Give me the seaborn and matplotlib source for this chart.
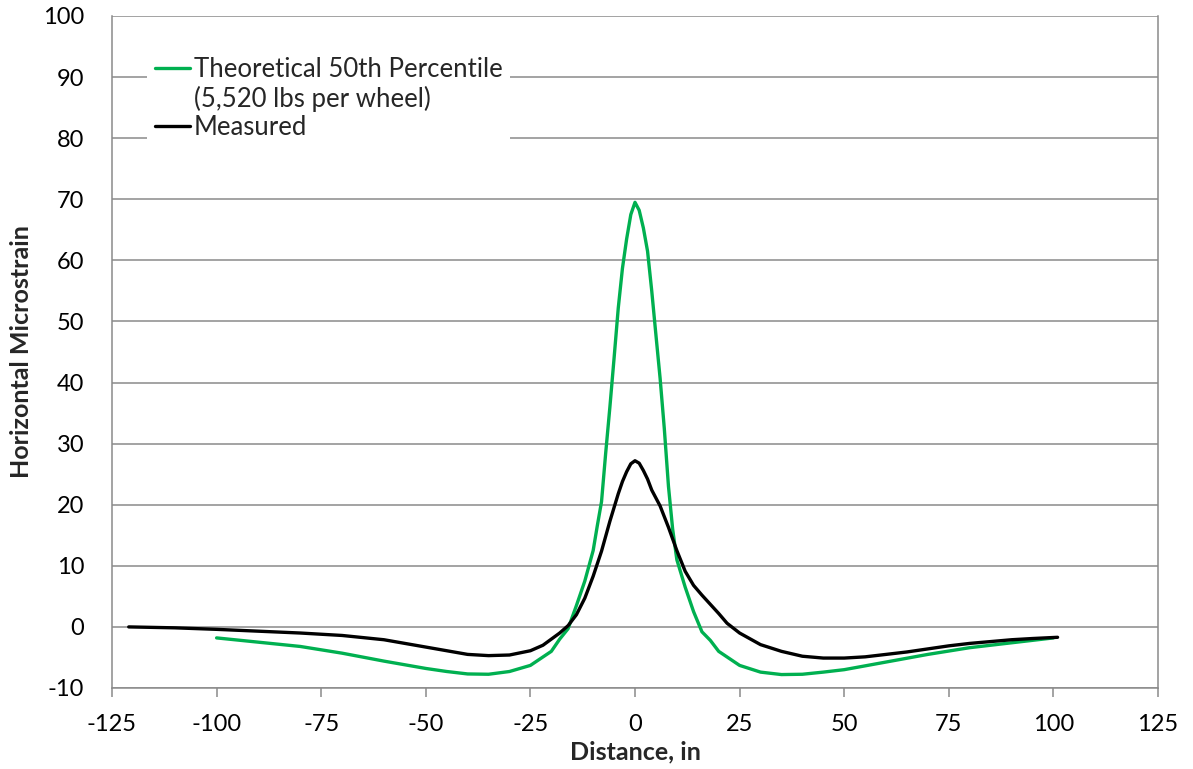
import matplotlib
matplotlib.use("Agg")
import matplotlib.pyplot as plt
from matplotlib.lines import Line2D
import seaborn as sns
import pandas as pd

# Theoretical 50th percentile strain response (5,520 lbs per wheel)
theory_x = [-100, -90, -80, -70, -60, -50, -45, -40, -35, -30, -25, -20, -18, -16,
            -14, -12, -10, -9, -8, -7, -6, -5, -4, -3, -2, -1, 0, 1, 2, 3, 4, 5, 6, 7, 8, 9,
            10, 12, 14, 16, 18, 20, 25, 30, 35, 40, 45, 50, 60, 70, 80, 90, 100]
theory_y = [-1.8, -2.5, -3.2, -4.3, -5.6, -6.8, -7.3, -7.7, -7.75, -7.3, -6.3, -4.0, -2.0, -0.3,
            3.5, 7.5, 12.5, 16.6, 20.5, 28.5, 36.0, 44.0, 52.2, 58.7, 63.5, 67.5, 69.5, 68.2, 65.3,
            61.5, 55.0, 47.8, 40.7, 32.5, 23.0, 16.0,
            11.0, 6.5, 2.5, -0.8, -2.2, -4.0, -6.3, -7.4, -7.8, -7.75, -7.4, -7.0, -5.75, -4.5,
            -3.4, -2.6, -1.8]

# Measured strain trace
measured_x = [-121, -110, -100, -90, -80, -70, -60, -50, -45, -40, -35, -30, -25, -22, -20,
              -18, -16, -14, -12, -10, -8, -6, -4, -3, -2, -1, 0, 1, 2, 3, 4, 6, 8, 10, 12, 14,
              16, 18, 20, 22, 25, 30, 35, 40, 45, 50, 55, 60, 65, 70, 75, 80, 85, 90, 95, 101]
measured_y = [0.0, -0.15, -0.4, -0.7, -1.0, -1.4, -2.1, -3.3, -3.9, -4.5, -4.7, -4.6, -3.9, -3.0,
              -2.0, -1.0, 0.2, 2.0, 4.7, 8.3, 12.4, 17.3, 21.8, 23.8, 25.4, 26.7, 27.2, 26.8,
              25.6, 24.2, 22.4, 19.8, 16.3, 12.5, 9.1, 6.8, 5.2, 3.7, 2.2, 0.6, -1.0, -2.9,
              -4.0, -4.8, -5.1, -5.1, -4.9, -4.5, -4.1, -3.6, -3.1, -2.7, -2.4, -2.1, -1.9, -1.7]

theory_label = "Theoretical 50th Percentile"
theory_note = "(5,520 lbs per wheel)"
measured_label = "Measured"

x_ticks = [-125, -100, -75, -50, -25, 0, 25, 50, 75, 100, 125]
y_ticks = [-10, 0, 10, 20, 30, 40, 50, 60, 70, 80, 90, 100]

GREEN = "#00B050"
GRID = "#8a8a8a"

sns.set_theme(style="white")
plt.rcParams["font.family"] = ["Lato", "DejaVu Sans"]

fig = plt.figure(figsize=(11.93, 7.69), dpi=100)
ax = fig.add_axes([112 / 1193, 1 - 688 / 769, 1046 / 1193, 672 / 769])

theory = pd.DataFrame({"x": theory_x, "y": theory_y})
measured = pd.DataFrame({"x": measured_x, "y": measured_y})

sns.lineplot(data=theory, x="x", y="y", ax=ax, color=GREEN, linewidth=2.4,
             sort=False, estimator=None, zorder=3)
sns.lineplot(data=measured, x="x", y="y", ax=ax, color="black", linewidth=2.4,
             sort=False, estimator=None, zorder=4)

ax.set_xlim(-125, 125)
ax.set_ylim(-10, 100)
ax.set_xticks(x_ticks)
ax.set_yticks(y_ticks)
ax.set_xticklabels([str(v) for v in x_ticks])
ax.set_yticklabels([str(v) for v in y_ticks])

ax.yaxis.grid(True, color=GRID, linewidth=1.1)
ax.xaxis.grid(False)
ax.set_axisbelow(True)

for side in ["left", "right", "bottom"]:
    ax.spines[side].set_visible(True)
    ax.spines[side].set_color(GRID)
    ax.spines[side].set_linewidth(1.1)
ax.spines["top"].set_visible(False)

ax.tick_params(axis="x", direction="out", length=6.5, width=1.1, color=GRID,
               labelsize=17, pad=12, labelcolor="black", bottom=True)
ax.tick_params(axis="y", length=0, labelsize=17, pad=20, labelcolor="black")

ax.set_xlabel("Distance, in", fontsize=18, fontweight="bold", va="center")
ax.set_ylabel("Horizontal Microstrain", fontsize=18, fontweight="bold", va="center")
ax.xaxis.set_label_coords(0.5, (688 - 752) / 672)
ax.yaxis.set_label_coords((22 - 112) / 1046, 0.5)

handles = [
    Line2D([], [], color=GREEN, linewidth=2.4),
    Line2D([], [], color="none"),
    Line2D([], [], color="black", linewidth=2.4),
]
labels = [theory_label, theory_note, measured_label]
leg = ax.legend(handles, labels, loc="upper left", bbox_to_anchor=(0.0335, 0.951),
                fontsize=18.5, frameon=True, fancybox=False, framealpha=1,
                edgecolor="none", facecolor="white", handlelength=1.36,
                handletextpad=0.15, labelspacing=0.15, borderpad=0.3,
                borderaxespad=0)
leg.set_zorder(5)

fig.savefig("out.png", dpi=100, facecolor="white")
